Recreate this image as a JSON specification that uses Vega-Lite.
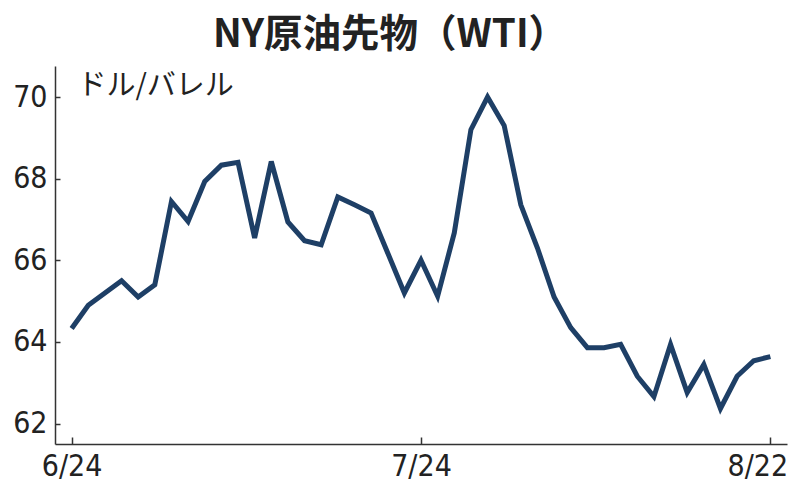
{
  "$schema": "https://vega.github.io/schema/vega-lite/v6.json",
  "width": 732,
  "height": 378,
  "autosize": {"type": "none"},
  "padding": {"left": 55, "top": 66, "right": 17, "bottom": 55},
  "background": "white",
  "title": {
    "text": "NY原油先物（WTI）",
    "font": "Noto Sans CJK JP",
    "fontSize": 38.5,
    "fontWeight": "bold",
    "color": "#222222",
    "anchor": "middle",
    "dx": -31,
    "baseline": "alphabetic",
    "offset": -19
  },
  "data": {
    "values": [
      {"date": "6/24", "price": 64.33},
      {"date": "6/25", "price": 64.90},
      {"date": "6/26", "price": 65.20},
      {"date": "6/27", "price": 65.50},
      {"date": "6/30", "price": 65.10},
      {"date": "7/1", "price": 65.40},
      {"date": "7/2", "price": 67.44},
      {"date": "7/3", "price": 66.95},
      {"date": "7/7", "price": 67.93},
      {"date": "7/8", "price": 68.33},
      {"date": "7/9", "price": 68.40},
      {"date": "7/10", "price": 66.55},
      {"date": "7/11", "price": 68.42},
      {"date": "7/14", "price": 66.94},
      {"date": "7/15", "price": 66.48},
      {"date": "7/16", "price": 66.38},
      {"date": "7/17", "price": 67.55},
      {"date": "7/18", "price": 67.36},
      {"date": "7/21", "price": 67.16},
      {"date": "7/22", "price": 66.18},
      {"date": "7/23", "price": 65.20},
      {"date": "7/24", "price": 66.00},
      {"date": "7/25", "price": 65.12},
      {"date": "7/28", "price": 66.67},
      {"date": "7/29", "price": 69.20},
      {"date": "7/30", "price": 70.00},
      {"date": "7/31", "price": 69.30},
      {"date": "8/1", "price": 67.36},
      {"date": "8/4", "price": 66.30},
      {"date": "8/5", "price": 65.10},
      {"date": "8/6", "price": 64.35},
      {"date": "8/7", "price": 63.86},
      {"date": "8/8", "price": 63.86},
      {"date": "8/11", "price": 63.94},
      {"date": "8/12", "price": 63.16},
      {"date": "8/13", "price": 62.66},
      {"date": "8/14", "price": 63.94},
      {"date": "8/15", "price": 62.76},
      {"date": "8/18", "price": 63.45},
      {"date": "8/19", "price": 62.37},
      {"date": "8/20", "price": 63.16},
      {"date": "8/21", "price": 63.54},
      {"date": "8/22", "price": 63.64}
    ]
  },
  "mark": {"type": "line", "color": "#1e3f66", "strokeWidth": 5, "strokeJoin": "miter", "strokeCap": "butt"},
  "encoding": {
    "x": {
      "field": "date",
      "type": "ordinal",
      "sort": null,
      "scale": {"type": "point", "padding": 1.15},
      "axis": {
        "title": null,
        "values": ["6/24", "7/24", "8/22"],
        "labelAngle": 0,
        "labelFont": "DejaVu Sans Condensed",
        "labelFontSize": 30,
        "labelColor": "#222222",
        "labelPadding": 14,
        "labelOffset": {"condition": {"test": "datum.value == '8/22'", "value": -13}, "value": 0},
        "tickSize": -7,
        "tickColor": "#333333",
        "tickWidth": 1.5,
        "domainColor": "#333333",
        "domainWidth": 1.5,
        "grid": false
      }
    },
    "y": {
      "field": "price",
      "type": "quantitative",
      "scale": {"domain": [61.5, 70.76], "nice": false, "zero": false},
      "axis": {
        "title": "ドル/バレル",
        "titleFont": "Noto Sans CJK JP",
        "titleFontSize": 29,
        "titleFontWeight": "normal",
        "titleColor": "#222222",
        "titleAngle": 0,
        "titleAlign": "left",
        "titleBaseline": "alphabetic",
        "titleX": 22,
        "titleY": 28,
        "values": [62, 64, 66, 68, 70],
        "labelFont": "DejaVu Sans Condensed",
        "labelFontSize": 30,
        "labelColor": "#222222",
        "labelPadding": 13,
        "tickSize": -5,
        "tickColor": "#333333",
        "tickWidth": 1.5,
        "domainColor": "#333333",
        "domainWidth": 1.5,
        "grid": false
      }
    }
  },
  "config": {"view": {"stroke": null}}
}
